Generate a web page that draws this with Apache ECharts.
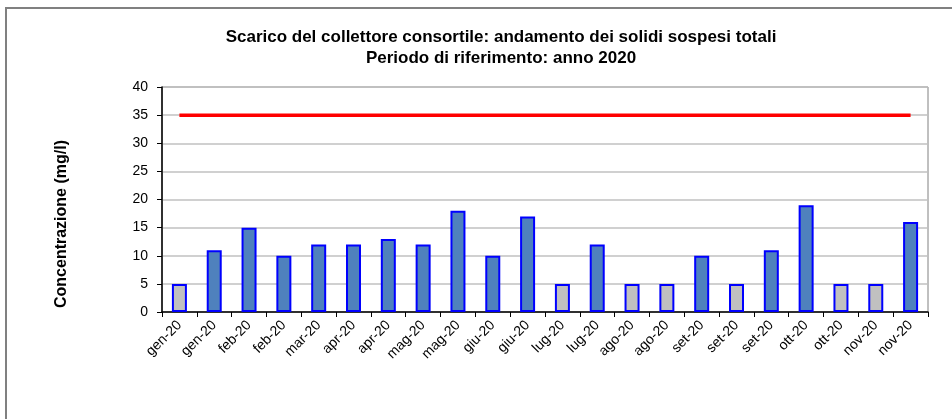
<!DOCTYPE html>
<html>
<head>
<meta charset="utf-8">
<script src="https://cdn.jsdelivr.net/npm/echarts@6/dist/echarts.min.js"></script>
<style>
  html, body { margin: 0; padding: 0; background: #fff; }
  #container { width: 952px; height: 419px; }
</style>
</head>
<body>
<div id="container"></div>
<script>
var dom = document.getElementById("container");
var myChart = echarts.init(dom);
var option;

var categories = [
    "gen-20", "gen-20", "feb-20", "feb-20", "mar-20", "apr-20", "apr-20",
    "mag-20", "mag-20", "giu-20", "giu-20", "lug-20", "lug-20", "ago-20",
    "ago-20", "set-20", "set-20", "set-20", "ott-20", "ott-20", "nov-20", "nov-20"
];
var sstValues = [5, 11, 15, 10, 12, 12, 13, 12, 18, 10, 17, 5, 12, 5, 5, 10, 5, 11, 19, 5, 5, 16];
// true = valore sotto il limite di rilevabilita' (barra grigia)
var belowLimit = [true, false, false, false, false, false, false, false, false, false, false,
    true, false, true, true, false, true, false, false, true, true, false];
var limitValue = 35;
var limitLine = categories.map(function () { return limitValue; });

var barData = sstValues.map(function (v, i) {
    return {
        value: v,
        itemStyle: { color: belowLimit[i] ? "#C0C0C0" : "#4F81BD" }
    };
});

option = {
    animation: false,
    title: {
        text: "Scarico del collettore consortile: andamento dei solidi sospesi totali\nPeriodo di riferimento: anno 2020",
        left: 496,
        top: 22,
        textAlign: "center",
        textStyle: {
            fontFamily: "Liberation Sans, Arial",
            fontSize: 17,
            fontWeight: "bold",
            color: "#000",
            lineHeight: 21
        }
    },
    graphic: [
        {
            type: "rect",
            shape: { x: 6, y: 8, width: 1000, height: 1000 },
            style: { fill: "none", stroke: "#808080", lineWidth: 2 },
            silent: true
        },
        {
            type: "text",
            x: 62,
            y: 224,
            rotation: Math.PI / 2,
            style: {
                text: "Concentrazione (mg/l)",
                fontFamily: "Liberation Sans, Arial",
                fontSize: 16,
                fontWeight: "bold",
                fill: "#000",
                align: "center",
                verticalAlign: "middle"
            }
        }
    ],
    grid: {
        left: 162,
        right: 24,
        top: 87,
        bottom: 107,
        show: true,
        borderColor: "#808080",
        borderWidth: 1
    },
    xAxis: {
        type: "category",
        data: categories,
        boundaryGap: true,
        axisLine: { lineStyle: { color: "#000", width: 1.5 } },
        axisTick: { show: true, length: 5, lineStyle: { color: "#000" } },
        axisLabel: {
            rotate: 45,
            interval: 0,
            margin: 11,
            fontFamily: "Liberation Sans, Arial",
            fontSize: 14,
            color: "#000"
        }
    },
    yAxis: {
        type: "value",
        min: 0,
        max: 40,
        interval: 5,
        axisLine: { show: true, lineStyle: { color: "#000", width: 1.5 } },
        axisTick: { show: true, length: 5, lineStyle: { color: "#000" } },
        axisLabel: {
            margin: 14,
            fontFamily: "Liberation Sans, Arial",
            fontSize: 14,
            color: "#000"
        },
        splitLine: { lineStyle: { color: "#C0C0C0", width: 1.5 } }
    },
    series: [
        {
            name: "Solidi sospesi totali",
            type: "bar",
            barWidth: 15,
            itemStyle: { borderColor: "#0000FF", borderWidth: 2 },
            data: barData
        },
        {
            name: "Limite",
            type: "line",
            symbol: "none",
            lineStyle: { color: "#FF0000", width: 3.5 },
            data: limitLine
        }
    ]
};

if (option && typeof option === "object") {
    myChart.setOption(option);
}
</script>
</body>
</html>
